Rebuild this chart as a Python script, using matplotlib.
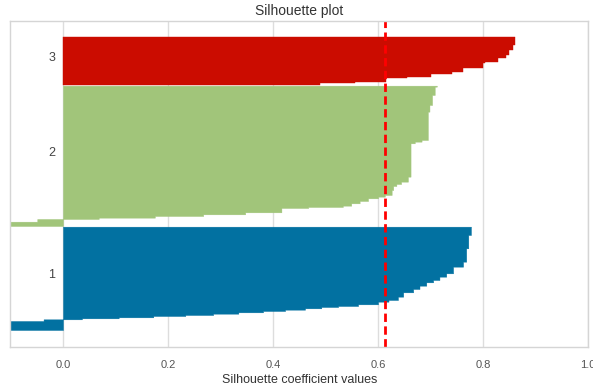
import matplotlib.pyplot as plt
import numpy as np

plt.rcParams['font.family'] = ['Liberation Sans', 'DejaVu Sans']

# silhouette coefficients per cluster, sorted ascending, stored as runs of (value, sample count)
c1_values = [-0.105, -0.037, 0.036, 0.106, 0.172, 0.233, 0.286, 0.334, 0.381, 0.423, 0.461,
             0.492, 0.524, 0.562, 0.600, 0.620, 0.638, 0.648, 0.667, 0.679, 0.692, 0.705,
             0.717, 0.730, 0.743, 0.762, 0.768, 0.772, 0.777]
c1_counts = [27, 5, 3, 3, 4, 3, 4, 4, 4, 4, 4,
             4, 3, 5, 8, 5, 10, 13, 10, 10, 10, 7,
             10, 10, 20, 15, 40, 40, 25]

c2_values = [-0.105, -0.049, 0.068, 0.175, 0.267, 0.347, 0.416, 0.467, 0.533, 0.549, 0.565,
             0.581, 0.600, 0.613, 0.626, 0.629, 0.635, 0.644, 0.657, 0.662, 0.670, 0.683,
             0.695, 0.698, 0.703, 0.708, 0.712]
c2_counts = [13, 8, 4, 5, 5, 6, 13, 3, 4, 7, 7,
             8, 5, 5, 15, 12, 6, 7, 15, 100, 5, 5,
             85, 20, 30, 25, 3]

c3_values = [0.489, 0.556, 0.615, 0.655, 0.701, 0.740, 0.762, 0.800, 0.803, 0.828, 0.844,
             0.850, 0.857, 0.860]
c3_counts = [5, 5, 10, 4, 9, 7, 10, 15, 5, 10, 10, 15, 15, 25]

cluster_labels = ['1', '2', '3']
cluster_colors = ['#0271a1', '#a1c57a', '#cb0c00']
silhouette_avg = 0.613
x_ticks = [0.0, 0.2, 0.4, 0.6, 0.8, 1.0]

clusters = [(c1_values, c1_counts), (c2_values, c2_counts), (c3_values, c3_counts)]

fig = plt.figure(figsize=(5.93, 3.85), dpi=100)
ax = fig.add_axes([0.0177, 0.0987, 0.9739, 0.8468])

y_lower = 51
for (vals, counts), label, color in zip(clusters, cluster_labels, cluster_colors):
    samples = np.repeat(vals, counts)
    n = len(samples)
    ys = np.arange(y_lower, y_lower + n + 1)
    xs = np.append(samples, samples[-1])
    ax.fill_betweenx(ys, 0, xs, step='post', facecolor=color, edgecolor=color, linewidth=0.3)
    ax.text(-0.015, y_lower + 0.5 * n, label, ha='right', va='baseline',
            fontsize=9, color='#444444')
    y_lower += n + 2

# mean silhouette score
ax.axvline(silhouette_avg, color='red', linestyle='--', linewidth=2, dashes=(3.0, 1.6))

ax.set_xlim(-0.1, 1.0)
ax.set_ylim(0, y_lower - 2 + 47)
ax.set_yticks([])
ax.set_xticks(x_ticks)
ax.set_xticklabels([f'{t:.1f}' for t in x_ticks])
ax.tick_params(axis='x', length=0, pad=9, labelsize=8, labelcolor='#555555')
ax.grid(axis='x', color='#dddddd', linewidth=1)
ax.set_axisbelow(True)
for spine in ax.spines.values():
    spine.set_color('#d5d5d5')
    spine.set_linewidth(1)

ax.set_title('Silhouette plot', fontsize=10, color='#333333', pad=4)
ax.set_xlabel('Silhouette coefficient values', fontsize=9, color='#333333', labelpad=3)

fig.savefig('out.png', dpi=100)
